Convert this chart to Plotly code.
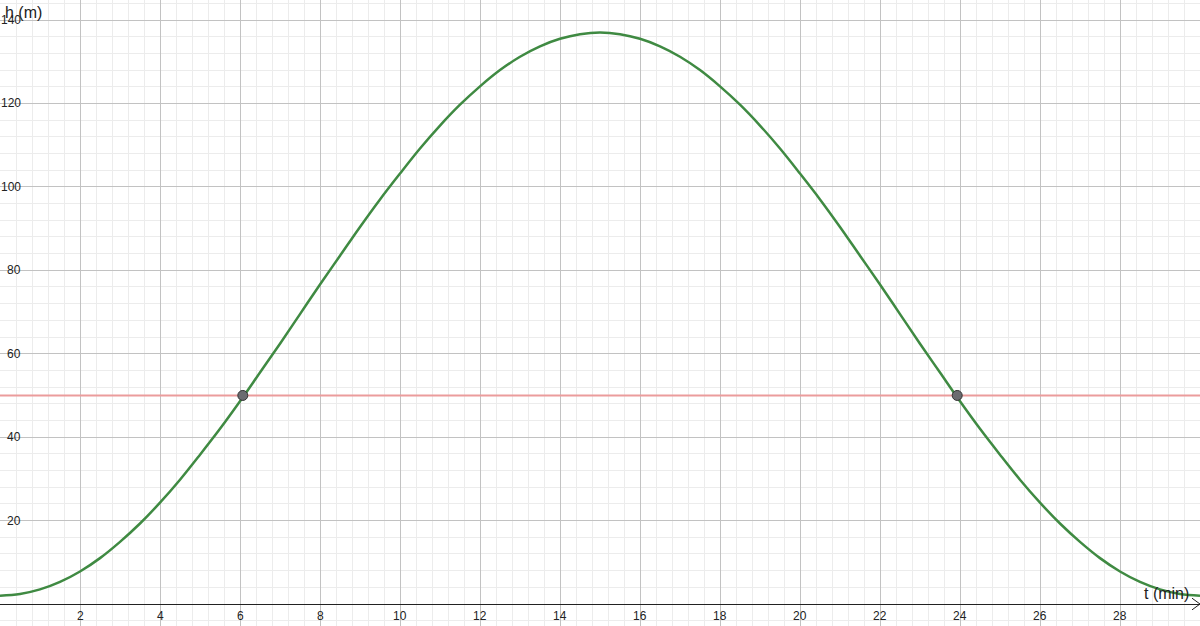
import plotly.graph_objs as go

# height of the cabin (m), every half minute
t_min = [i / 2 for i in range(0, 61)]
h_m = [2.0, 2.4, 3.5, 5.3, 7.8, 11.0, 14.9, 19.3, 24.3, 29.8,
       35.8, 42.0, 48.6, 55.5, 62.4, 69.5, 76.6, 83.5, 90.4, 97.0,
       103.2, 109.2, 114.7, 119.7, 124.1, 128.0, 131.2, 133.7, 135.5, 136.6,
       137.0,
       136.6, 135.5, 133.7, 131.2, 128.0, 124.1, 119.7, 114.7, 109.2, 103.2,
       97.0, 90.4, 83.5, 76.6, 69.5, 62.4, 55.5, 48.6, 42.0, 35.8,
       29.8, 24.3, 19.3, 14.9, 11.0, 7.8, 5.3, 3.5, 2.4, 2.0]

# horizontal line h = 50 and where the curve crosses it
level = 50
cross_t = [6.07, 23.93]
cross_h = [50, 50]

x_ticks = list(range(2, 30, 2))
y_ticks = list(range(20, 160, 20))

fnt = 'Liberation Sans, Arial, sans-serif'

traces = []
traces.append(go.Scatter(x=[0, 30], y=[level, level], mode='lines',
                         line=dict(color='#eb9c9c', width=2), hoverinfo='skip'))
traces.append(go.Scatter(x=t_min, y=h_m, mode='lines',
                         line=dict(color='#3f8a42', width=2.5, shape='spline', smoothing=1.0)))
traces.append(go.Scatter(x=cross_t, y=cross_h, mode='markers',
                         marker=dict(size=10, color='#6b6b70', line=dict(color='#333333', width=1))))
# arrow tip of the t axis
traces.append(go.Scatter(x=[29.8, 30, 29.8], y=[1.4, 0, -1.4], mode='lines',
                         line=dict(color='#222222', width=1), hoverinfo='skip'))

ann = []
for v in x_ticks:
    ann.append(dict(x=v, y=0, xref='x', yref='y', text=str(v), showarrow=False,
                    yshift=-12, font=dict(family=fnt, size=12, color='#222222')))
for v in y_ticks:
    ann.append(dict(x=0, y=v, xref='x', yref='y', text=str(v), showarrow=False,
                    xanchor='right', xshift=23, font=dict(family=fnt, size=12, color='#222222')))
ann.append(dict(x=0, y=140, xref='x', yref='y', text='h (m)', showarrow=False,
                xanchor='left', xshift=3, yshift=8, font=dict(family=fnt, size=16, color='#222222')))
ann.append(dict(x=30, y=0, xref='x', yref='y', text='t (min)', showarrow=False,
                xanchor='right', yanchor='bottom', xshift=-9, yshift=0,
                font=dict(family=fnt, size=16, color='#222222')))

layout = go.Layout(
    width=1200, height=626, margin=dict(l=0, r=0, t=0, b=0),
    showlegend=False, plot_bgcolor='white', paper_bgcolor='white',
    xaxis=dict(range=[0, 30], dtick=2, tick0=0, showticklabels=False, zeroline=False,
               showgrid=True, gridcolor='#c2c2c2', gridwidth=1,
               minor=dict(dtick=0.4, showgrid=True, gridcolor='#ececec', gridwidth=1)),
    yaxis=dict(range=[-5.27, 144.8], dtick=20, tick0=0, showticklabels=False,
               zeroline=True, zerolinecolor='#222222', zerolinewidth=1,
               showgrid=True, gridcolor='#c2c2c2', gridwidth=1,
               minor=dict(dtick=4, showgrid=True, gridcolor='#ececec', gridwidth=1)),
    annotations=ann)

fig = go.Figure(data=traces, layout=layout)
# drop the page margin so the chart fills the window
fig.write_html('out.html', config={'displayModeBar': False},
               post_script="document.body.style.margin='0px';document.body.style.overflow='hidden';")
